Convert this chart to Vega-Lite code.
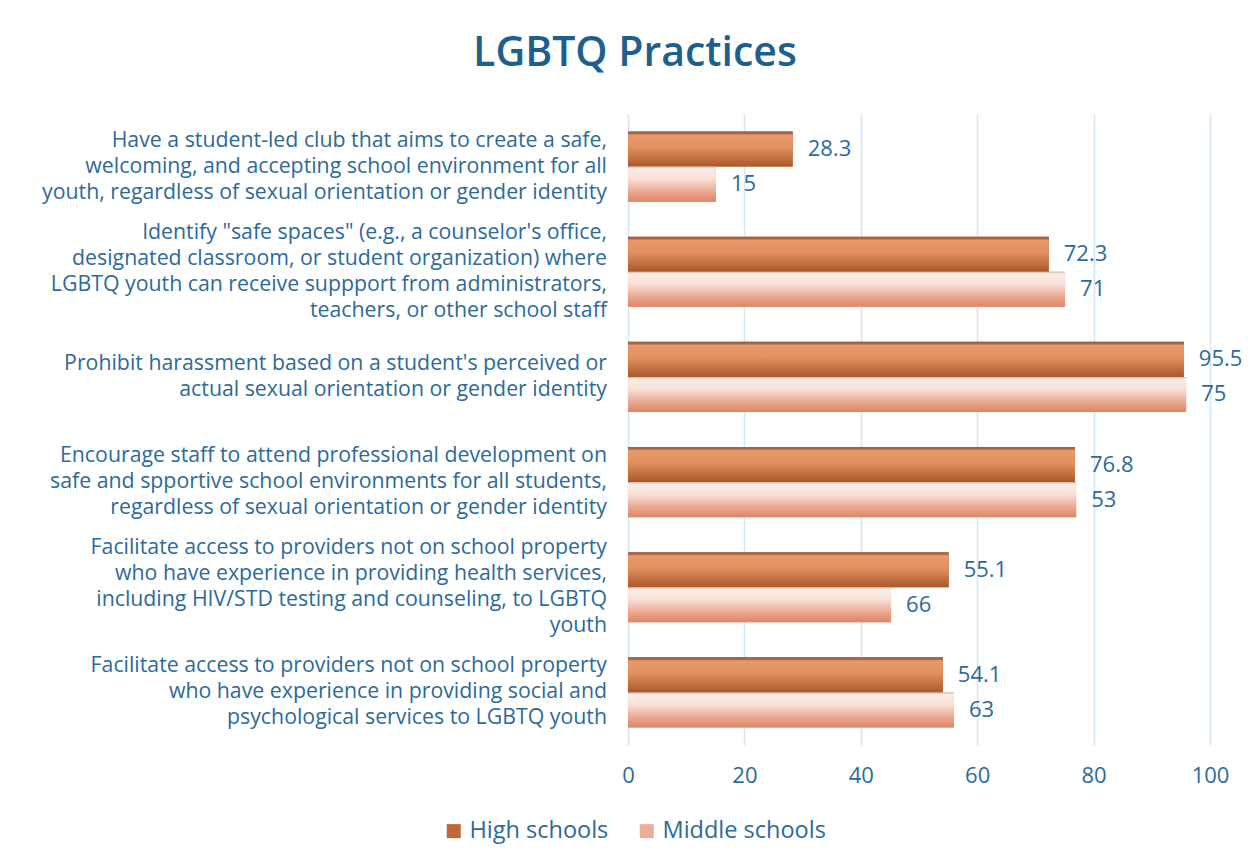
{
  "$schema": "https://vega.github.io/schema/vega-lite/v6.json",
  "width": 582,
  "height": 631,
  "autosize": "none",
  "padding": {"left": 628, "top": 114, "right": 46, "bottom": 112},
  "background": "white",
  "title": {
    "text": "LGBTQ Practices",
    "anchor": "middle",
    "dx": -284,
    "offset": 39,
    "font": "Open Sans",
    "fontSize": 41,
    "fontWeight": 600,
    "color": "#1E5F8E"
  },
  "config": {
    "view": {"stroke": null},
    "font": "Open Sans"
  },
  "datasets": {
    "cats": [
      {"practice": "Have a student-led club that aims to create a safe,|welcoming, and accepting school environment for all|youth, regardless of sexual orientation or gender identity"},
      {"practice": "Identify \"safe spaces\" (e.g., a counselor's office,|designated classroom, or student organization) where|LGBTQ youth can receive suppport from administrators,|teachers, or other school staff"},
      {"practice": "Prohibit harassment based on a student's perceived or|actual sexual orientation or gender identity"},
      {"practice": "Encourage staff to attend professional development on|safe and spportive school environments for all students,|regardless of sexual orientation or gender identity"},
      {"practice": "Facilitate access to providers not on school property|who have experience in providing health services,|including HIV/STD testing and counseling, to LGBTQ|youth"},
      {"practice": "Facilitate access to providers not on school property|who have experience in providing social and|psychological services to LGBTQ youth"}
    ],
    "bars": [
      {"practice": "Have a student-led club that aims to create a safe,|welcoming, and accepting school environment for all|youth, regardless of sexual orientation or gender identity", "series": "High schools", "value": 28.3, "label": "28.3"},
      {"practice": "Have a student-led club that aims to create a safe,|welcoming, and accepting school environment for all|youth, regardless of sexual orientation or gender identity", "series": "Middle schools", "value": 15.1, "label": "15"},
      {"practice": "Identify \"safe spaces\" (e.g., a counselor's office,|designated classroom, or student organization) where|LGBTQ youth can receive suppport from administrators,|teachers, or other school staff", "series": "High schools", "value": 72.3, "label": "72.3"},
      {"practice": "Identify \"safe spaces\" (e.g., a counselor's office,|designated classroom, or student organization) where|LGBTQ youth can receive suppport from administrators,|teachers, or other school staff", "series": "Middle schools", "value": 75.1, "label": "71"},
      {"practice": "Prohibit harassment based on a student's perceived or|actual sexual orientation or gender identity", "series": "High schools", "value": 95.5, "label": "95.5"},
      {"practice": "Prohibit harassment based on a student's perceived or|actual sexual orientation or gender identity", "series": "Middle schools", "value": 95.9, "label": "75"},
      {"practice": "Encourage staff to attend professional development on|safe and spportive school environments for all students,|regardless of sexual orientation or gender identity", "series": "High schools", "value": 76.8, "label": "76.8"},
      {"practice": "Encourage staff to attend professional development on|safe and spportive school environments for all students,|regardless of sexual orientation or gender identity", "series": "Middle schools", "value": 77.0, "label": "53"},
      {"practice": "Facilitate access to providers not on school property|who have experience in providing health services,|including HIV/STD testing and counseling, to LGBTQ|youth", "series": "High schools", "value": 55.1, "label": "55.1"},
      {"practice": "Facilitate access to providers not on school property|who have experience in providing health services,|including HIV/STD testing and counseling, to LGBTQ|youth", "series": "Middle schools", "value": 45.2, "label": "66"},
      {"practice": "Facilitate access to providers not on school property|who have experience in providing social and|psychological services to LGBTQ youth", "series": "High schools", "value": 54.1, "label": "54.1"},
      {"practice": "Facilitate access to providers not on school property|who have experience in providing social and|psychological services to LGBTQ youth", "series": "Middle schools", "value": 56.0, "label": "63"}
    ]
  },
  "layer": [
    {
      "data": {"name": "bars"},
      "mark": {"type": "bar"},
      "encoding": {
        "y": {
          "field": "practice",
          "type": "nominal",
          "sort": null,
          "scale": {"paddingInner": 0.3333, "paddingOuter": 0.1667},
          "axis": {"title": null, "ticks": false, "domain": false, "labels": false}
        },
        "yOffset": {
          "field": "series",
          "type": "nominal",
          "sort": ["High schools", "Middle schools"],
          "scale": {"paddingInner": 0, "paddingOuter": 0}
        },
        "x": {
          "field": "value",
          "type": "quantitative",
          "scale": {"domain": [0, 100], "nice": false},
          "axis": {
            "title": null,
            "values": [0, 20, 40, 60, 80, 100],
            "ticks": false,
            "domain": false,
            "grid": true,
            "gridColor": "#D5E7F6",
            "gridWidth": 1.5,
            "labelFontSize": 22,
            "labelColor": "#2C6A9C",
            "labelPadding": 20,
            "labelFlush": false,
            "labelFont": "Open Sans"
          }
        },
        "color": {
          "field": "series",
          "type": "nominal",
          "sort": ["High schools", "Middle schools"],
          "scale": {"domain": ["High schools", "Middle schools"], "range": ["#C0673A", "#EBAE98"]},
          "legend": {
            "title": null,
            "orient": "none",
            "direction": "horizontal",
            "legendX": -186,
            "legendY": 705,
            "symbolType": "square",
            "symbolSize": 196,
            "symbolStrokeWidth": 0,
            "labelFontSize": 23.5,
            "labelColor": "#2C6A9C",
            "labelFont": "Open Sans",
            "labelOffset": 4,
            "labelLimit": 300,
            "columnPadding": 26
          }
        }
      }
    },
    {
      "data": {"name": "bars"},
      "mark": {"type": "bar"},
      "encoding": {
        "y": {"field": "practice", "type": "nominal", "sort": null},
        "yOffset": {"field": "series", "type": "nominal", "sort": ["High schools", "Middle schools"]},
        "x": {"field": "value", "type": "quantitative"},
        "fill": {
          "condition": {
            "test": "datum.series === 'High schools'",
            "value": {
              "gradient": "linear", "x1": 0, "y1": 0, "x2": 0, "y2": 1,
              "stops": [
                {"offset": 0, "color": "#9C6040"},
                {"offset": 0.06, "color": "#A8684A"},
                {"offset": 0.1, "color": "#E89A6C"},
                {"offset": 0.45, "color": "#E2905F"},
                {"offset": 1, "color": "#A9582A"}
              ]
            }
          },
          "value": {
            "gradient": "linear", "x1": 0, "y1": 0, "x2": 0, "y2": 1,
            "stops": [
              {"offset": 0, "color": "#CDB8AE"},
              {"offset": 0.06, "color": "#FBEBE5"},
              {"offset": 0.35, "color": "#F8E0D7"},
              {"offset": 0.7, "color": "#EBAA93"},
              {"offset": 1, "color": "#DF8463"}
            ]
          }
        }
      }
    },
    {
      "data": {"name": "bars"},
      "mark": {"type": "text", "align": "left", "baseline": "middle", "dx": 15, "fontSize": 22, "color": "#2C6A9C", "font": "Open Sans"},
      "encoding": {
        "y": {"field": "practice", "type": "nominal", "sort": null},
        "yOffset": {"field": "series", "type": "nominal", "sort": ["High schools", "Middle schools"]},
        "x": {"field": "value", "type": "quantitative"},
        "text": {"field": "label", "type": "nominal"}
      }
    },
    {
      "data": {"name": "cats"},
      "mark": {
        "type": "text",
        "align": "right",
        "baseline": "middle",
        "dx": -21,
        "dy": {"expr": "-(length(split(datum.practice, '|')) - 1) * 13"},
        "lineBreak": "|",
        "lineHeight": 26,
        "fontSize": 21.3,
        "color": "#2C6A9C",
        "font": "Open Sans"
      },
      "encoding": {
        "y": {"field": "practice", "type": "nominal", "sort": null},
        "x": {"datum": 0, "type": "quantitative"},
        "text": {"field": "practice", "type": "nominal"}
      }
    }
  ]
}
